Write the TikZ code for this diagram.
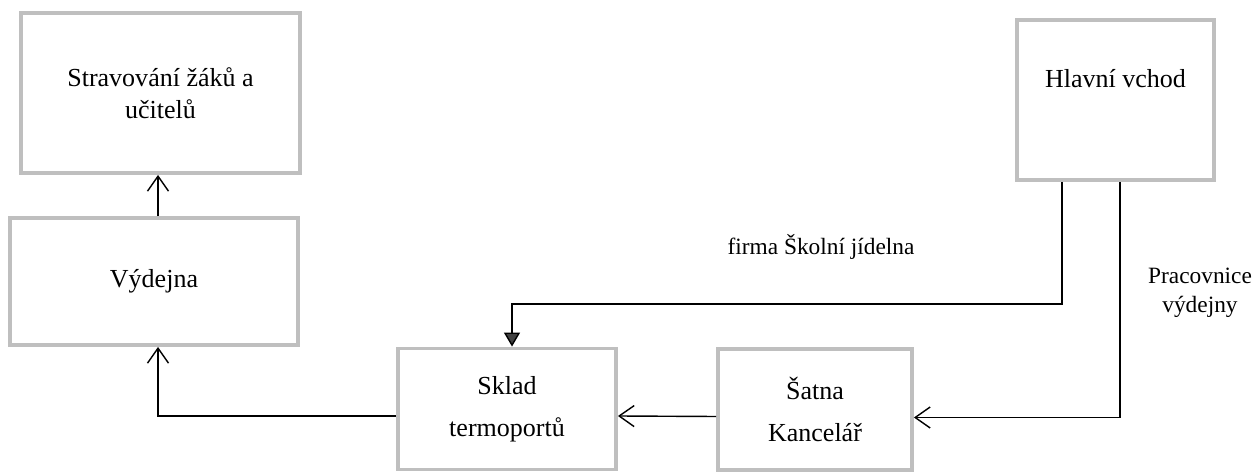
\documentclass[tikz,border=0pt]{standalone}
\usepackage{fontspec}
\setmainfont{Liberation Serif}
\usetikzlibrary{arrows.meta}
\begin{document}
\begin{tikzpicture}
  [box/.style={draw=black!25,line width=2.2pt,align=center,font=\fontsize{14.8}{18.2}\selectfont},
   wide/.style={font=\fontsize{14.8}{23.9}\selectfont},
   opentip/.style={line width=0.8pt,-{Straight Barb[length=3mm,width=4.2mm]}},
   fulltip/.style={line width=0.8pt,-{Triangle[length=2.8mm,width=3.2mm,fill=black!75]}}]
  \tikzstyle{note} = [align=center,font=\fontsize{13.3}{16.5}\selectfont]
  \useasboundingbox (0,0) rectangle (25.12,9.44);
  \node[box,minimum width=5.58cm,minimum height=3.2cm] (strav) at (3.21,7.58) {Stravování žáků a\\učitelů};
  \node[box,minimum width=5.76cm,minimum height=2.54cm] (vydej) at (3.08,3.81) {Výdejna};
  \node[box,wide,minimum width=4.36cm,minimum height=2.42cm] (sklad) at (10.14,1.26) {Sklad\\termoportů};
  \node[box,wide,minimum width=3.88cm,minimum height=2.42cm] (satna) at (16.3,1.25) {Šatna\\Kancelář};
  \node[box,text depth=0.86cm,minimum width=3.94cm,minimum height=3.2cm] (vchod) at (22.31,7.44) {Hlavní vchod};
  \node[note,anchor=base] (firma) at (16.42,4.34) {firma Školní jídelna};
  \node[note] (prac) at (24.0,3.58) {Pracovnice\\výdejny};
  \draw[opentip] ([xshift=0.8mm]vydej.north) -- ([xshift=0.8mm]vydej.north |- strav.south);
  \draw[opentip] ([yshift=-1.4mm]sklad.west) -| ([xshift=0.8mm]vydej.south);
  \draw[opentip] ([yshift=-1.4mm]satna.west) -- ([yshift=-1.4mm]sklad.east);
  \draw[opentip] ([xshift=0.9mm]vchod.south) |- ([yshift=-1.6mm]satna.east);
  \draw[fulltip] ([xshift=-10.7mm]vchod.south) -- ++(0,-2.44) -| ([xshift=1mm]sklad.north);
\end{tikzpicture}
\end{document}
